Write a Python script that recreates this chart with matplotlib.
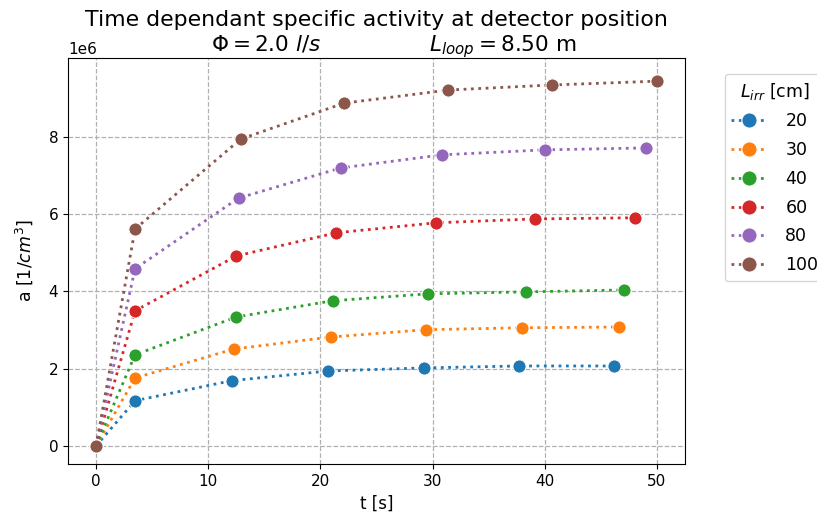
import matplotlib
matplotlib.use("Agg")
import matplotlib.pyplot as plt

labels = ["20", "30", "40", "60", "80", "100"]
colors = ["#1f77b4", "#ff7f0e", "#2ca02c", "#d62728", "#9467bd", "#8c564b"]

t_20 = [0, 3.48, 12.1, 20.7, 29.2, 37.7, 46.2]
a_20 = [0, 1.17e6, 1.69e6, 1.94e6, 2.02e6, 2.07e6, 2.07e6]
t_30 = [0, 3.48, 12.3, 20.9, 29.4, 38.0, 46.6]
a_30 = [0, 1.76e6, 2.51e6, 2.82e6, 3.01e6, 3.06e6, 3.08e6]
t_40 = [0, 3.48, 12.5, 21.1, 29.6, 38.3, 47.1]
a_40 = [0, 2.36e6, 3.34e6, 3.76e6, 3.94e6, 3.99e6, 4.04e6]
t_60 = [0, 3.48, 12.5, 21.4, 30.3, 39.1, 48.0]
a_60 = [0, 3.50e6, 4.92e6, 5.52e6, 5.78e6, 5.88e6, 5.91e6]
t_80 = [0, 3.48, 12.7, 21.8, 30.8, 40.0, 49.0]
a_80 = [0, 4.59e6, 6.42e6, 7.20e6, 7.54e6, 7.67e6, 7.72e6]
t_100 = [0, 3.48, 12.9, 22.1, 31.4, 40.6, 50.0]
a_100 = [0, 5.62e6, 7.95e6, 8.88e6, 9.22e6, 9.35e6, 9.45e6]

series_t = [t_20, t_30, t_40, t_60, t_80, t_100]
series_a = [a_20, a_30, a_40, a_60, a_80, a_100]

fig = plt.figure(figsize=(8.17, 5.24), dpi=100)
ax = fig.add_axes([68/817, 1 - 464/524, (685-68)/817, (464-58)/524])

for t, a, lab, c in zip(series_t, series_a, labels, colors):
    ax.plot(t, a, linestyle=":", linewidth=2, color=c, marker="o", markersize=9.5,
            markeredgecolor="white", markeredgewidth=0.75, label=lab)

ax.set_ylim(-0.47e6, 10.05e6)
ax.grid(True, linestyle="--", color="#b0b0b0", linewidth=0.9)
ax.set_axisbelow(True)
ax.set_xlabel("t [s]", fontsize=12)
ax.set_ylabel("a [$1/cm^3$]", fontsize=12.5, labelpad=10)
ax.set_xticks([0, 10, 20, 30, 40, 50])
ax.set_yticks([0, 2e6, 4e6, 6e6, 8e6])
ax.tick_params(labelsize=11)
ax.yaxis.get_offset_text().set_fontsize(11)
ax.set_title("Time dependant specific activity at detector position",
             fontsize=15.8, y=1.0, pad=23)
ax.text(0.528, 1.0 - 2/406,
        r"$\Phi = 2.0\ l/s$" + " " * 16 + r"$L_{loop} = 8.50$ m",
        transform=ax.transAxes, ha="center", va="bottom", fontsize=15.5)

ax.legend(title="$L_{irr}$ [cm]", bbox_to_anchor=(1.05, 0.983), loc="upper left",
          fontsize=12.5, title_fontsize=12.5, labelspacing=0.62, markerscale=1.15,
          handletextpad=1.1)

fig.savefig("out.png", dpi=100)
